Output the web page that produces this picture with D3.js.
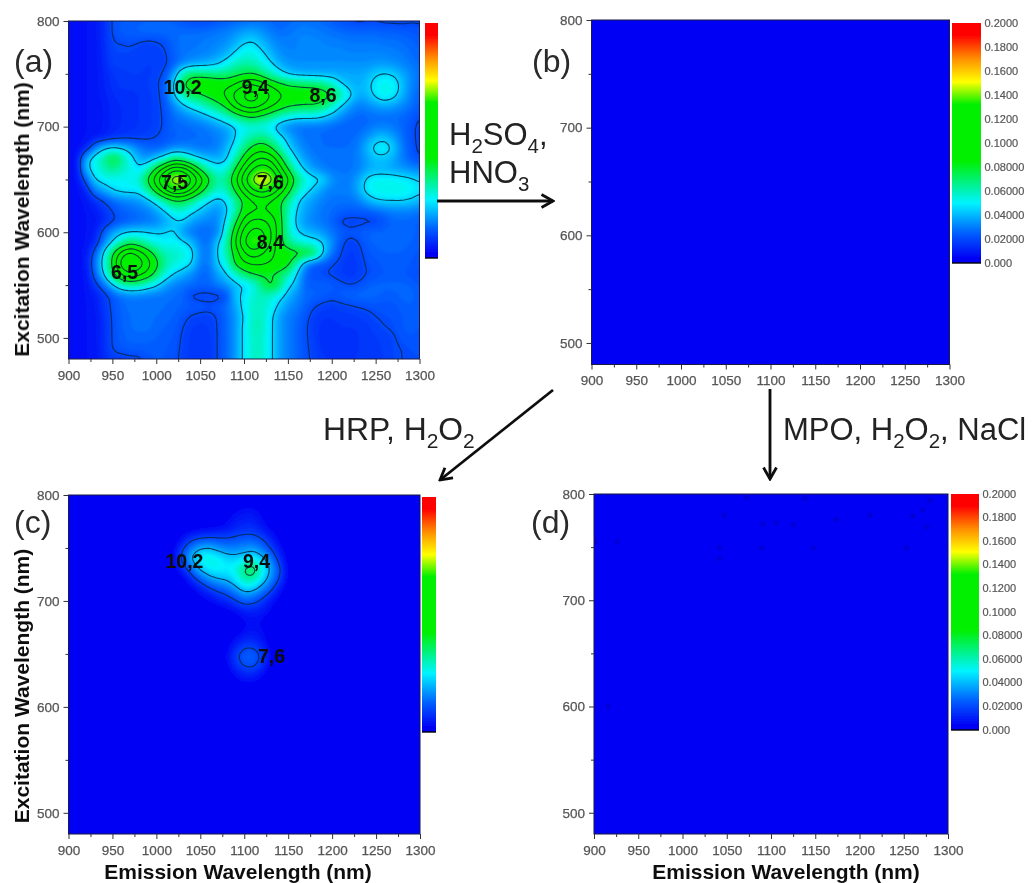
<!DOCTYPE html>
<html><head><meta charset="utf-8">
<script src="https://cdnjs.cloudflare.com/ajax/libs/d3/7.8.5/d3.min.js"></script>
<style>html,body{margin:0;padding:0;background:#fff;overflow:hidden}svg{display:block;font-family:"Liberation Sans",Arial,sans-serif}</style>
</head><body><div id="chart"></div>
<script>
// ---- data (intensity x 1000) ----
const emissionA = d3.range(900, 1301, 10);
const excitationA = d3.range(800, 479, -10);
const gridA = [
[6,6,7,8,13,21,23,24,24,25,25,25,24,22,20,19,20,22,24,25,26,27,27,26,25,26,27,28,27,26,24,21,20,18,19,19,18,18,18,19,19],
[6,6,7,8,13,21,24,25,26,27,27,27,27,27,27,27,28,29,30,33,36,37,34,30,27,28,30,31,30,29,28,27,26,26,26,26,25,25,24,23,22],
[6,6,7,8,13,20,20,21,20,18,19,21,26,28,28,29,30,31,33,38,44,46,40,34,31,30,31,32,32,31,30,30,29,29,29,29,28,28,27,26,24],
[5,6,7,8,12,19,19,19,17,17,18,19,25,28,29,30,31,34,38,46,53,53,47,40,33,31,31,32,32,32,32,32,31,31,31,31,31,30,29,27,25],
[5,6,7,8,12,18,18,18,19,17,17,18,24,30,34,36,38,42,50,58,62,60,54,46,38,34,33,33,33,33,33,33,33,33,33,34,34,33,31,29,26],
[5,6,7,8,11,15,16,17,17,16,18,21,35,60,72,70,68,66,68,72,76,78,70,60,50,42,38,37,37,37,37,37,37,37,38,44,46,44,38,32,28],
[5,6,7,8,11,14,16,16,16,17,19,24,46,78,92,96,96,92,90,96,108,112,104,92,84,78,76,74,72,68,60,46,40,38,42,50,54,52,42,32,26],
[5,6,7,8,10,13,14,14,15,16,18,23,44,62,72,76,84,90,100,118,130,135,126,112,100,92,90,90,92,88,80,64,50,38,40,48,54,50,40,30,25],
[5,6,7,8,9,12,13,14,15,16,18,22,32,42,50,56,64,72,84,104,118,122,112,100,90,82,80,78,78,72,60,46,36,30,32,36,38,36,32,28,24],
[5,6,7,8,9,12,13,14,15,16,18,21,27,30,34,38,44,50,58,68,78,82,76,68,60,54,50,50,50,46,40,33,28,26,26,27,27,27,26,24,20],
[5,6,7,8,9,12,13,14,15,16,18,21,26,26,27,28,30,34,38,44,50,52,50,48,36,30,28,27,27,27,26,25,25,25,27,30,30,29,26,22,18],
[5,6,7,8,10,13,15,16,17,18,20,22,24,25,26,27,28,30,33,45,56,62,68,60,50,40,32,28,27,27,26,26,26,28,33,40,42,36,28,22,18],
[5,6,10,30,42,46,44,38,30,26,24,26,30,31,30,28,28,30,40,50,66,82,88,80,62,46,36,30,28,27,27,27,27,30,40,50,52,44,30,23,18],
[5,8,40,52,64,80,68,52,38,34,42,52,68,64,52,44,40,38,42,60,84,104,112,106,86,60,44,34,30,28,28,28,28,30,36,42,42,38,30,24,20],
[5,8,42,52,60,66,60,54,46,58,82,105,122,120,102,76,58,50,54,78,104,126,136,130,104,78,54,42,34,30,28,28,28,30,36,38,38,36,34,32,30],
[5,7,24,46,50,52,50,52,56,80,108,132,152,150,130,106,82,62,66,92,122,146,155,150,126,100,72,55,50,46,34,30,30,36,48,52,52,52,50,48,44],
[5,6,12,30,38,46,50,50,50,64,88,112,130,128,110,88,68,56,60,80,105,126,134,128,108,86,62,50,42,34,30,30,30,38,50,54,54,54,54,52,48],
[5,6,8,14,20,26,30,32,34,40,50,64,76,76,66,54,46,40,46,62,80,94,100,94,82,66,48,38,34,30,28,28,28,30,38,44,46,46,46,44,40],
[5,6,7,9,14,20,24,26,28,30,36,44,54,56,48,42,36,32,42,60,86,92,94,92,84,60,44,36,32,28,27,25,24,24,24,26,28,30,30,30,28],
[5,6,7,8,12,18,22,24,26,28,30,36,42,44,36,32,30,32,48,74,102,116,116,106,88,58,42,34,30,28,26,18,17,17,18,18,22,26,26,26,24],
[5,6,7,9,24,36,42,46,46,45,44,45,47,34,28,26,26,30,56,88,118,132,130,114,88,60,46,40,38,34,28,26,22,24,26,26,26,26,26,26,24],
[5,6,7,12,30,45,62,72,68,58,52,50,52,48,42,30,27,44,60,96,126,140,134,112,84,68,58,54,50,46,34,22,17,19,24,26,26,26,26,25,24],
[5,6,8,24,46,78,104,118,106,90,72,60,58,56,50,32,28,46,62,84,108,120,112,98,90,88,86,84,78,46,28,20,16,18,22,24,25,25,25,24,22],
[5,6,8,28,50,82,118,132,122,104,84,64,56,52,46,30,28,44,52,82,92,96,96,94,92,84,60,32,22,22,20,18,15,17,21,22,24,24,24,23,21],
[5,6,7,24,44,74,98,108,100,90,72,54,44,38,32,26,26,36,44,56,70,78,80,78,72,62,44,26,21,20,19,17,15,17,20,21,23,23,23,22,20],
[5,6,7,16,26,42,58,64,62,54,46,36,30,28,27,26,26,30,34,40,44,50,68,84,72,48,40,24,24,25,24,22,20,21,24,26,26,26,26,25,23],
[5,6,7,9,16,22,27,29,29,28,28,28,27,26,18,17,17,17,20,42,48,56,60,56,50,40,32,27,26,24,22,24,26,27,27,26,24,24,26,26,24],
[5,6,7,9,15,22,26,28,28,28,28,27,26,25,24,23,22,23,28,36,50,58,58,54,42,34,30,25,20,18,17,18,19,20,21,22,22,22,24,25,24],
[5,6,7,8,14,21,25,27,28,28,27,26,25,22,19,18,18,20,26,34,46,58,60,48,36,30,27,22,17,15,15,16,16,17,18,20,21,21,23,24,23],
[5,6,7,8,13,21,25,27,28,28,26,25,24,20,17,16,17,20,26,34,48,60,60,48,36,30,26,21,16,14,14,15,15,15,16,18,20,21,23,24,23],
[5,6,7,8,13,21,24,26,26,26,25,24,23,19,16,15,16,20,26,34,48,58,58,48,36,30,26,21,17,13,13,14,14,15,16,17,17,19,22,23,22],
[5,6,7,8,13,21,23,24,24,24,24,23,22,19,16,15,16,20,26,34,48,58,58,48,36,30,26,21,18,14,13,14,14,15,15,16,18,19,20,21,21],
[5,6,7,8,12,17,17,18,18,22,23,23,22,18,16,15,16,20,26,34,48,58,58,48,36,30,26,22,18,16,14,14,15,15,17,15,17,19,20,21,21]
];
const emissionC = d3.range(1000, 1221, 10);
const excitationC = d3.range(800, 609, -10);
const gridC = [
[0,0,0,0,0,0,0,0,0,0,0,0,0,0,0,0,0,0,1,5,6,3,0],
[0,0,0,0,0,0,0,0,0,2,4,4,2,0,0,0,0,0,0,2,2,0,0],
[0,0,0,0,0,0,0,0,3,7,9,9,5,1,0,0,0,0,0,0,0,0,0],
[0,0,0,0,0,2,3,4,6,10,12,12,8,3,1,0,0,0,0,0,0,0,0],
[0,0,0,6,14,17,18,18,18,20,22,22,18,10,3,0,0,0,0,0,0,0,0],
[0,0,4,18,30,38,40,34,30,30,32,34,28,18,8,1,0,0,0,0,0,0,0],
[0,0,6,24,42,54,56,52,46,44,48,52,44,30,14,2,0,0,0,0,0,0,0],
[0,0,2,12,26,42,50,52,50,54,70,76,56,38,22,4,0,0,0,0,0,0,0],
[0,0,0,2,12,22,32,38,40,48,62,62,48,32,18,3,0,0,0,0,0,0,0],
[0,0,0,0,2,8,14,20,24,32,42,40,30,20,8,0,0,0,0,0,0,0,0],
[0,0,0,0,0,2,4,9,12,18,24,22,16,8,2,0,0,0,0,0,0,0,0],
[0,0,0,0,0,0,0,0,2,5,9,10,9,4,1,0,0,0,0,0,0,0,0],
[0,0,0,0,0,0,0,0,0,1,4,5,4,1,0,0,0,0,0,0,0,0,0],
[0,0,0,0,0,0,0,0,0,2,6,8,6,2,0,0,0,0,0,0,0,0,0],
[0,0,0,0,0,0,0,0,2,9,15,15,9,2,0,0,0,0,0,0,0,0,0],
[0,0,0,0,0,0,0,0,5,17,24,25,18,5,0,0,0,0,0,0,0,0,0],
[0,0,0,0,0,0,0,0,4,15,22,23,15,4,0,0,0,0,0,0,0,0,0],
[0,0,0,0,0,0,0,0,0,6,10,10,6,0,0,0,0,0,0,0,0,0,0],
[0,0,0,0,0,0,0,0,0,1,3,3,1,0,0,0,0,0,0,0,0,0,0],
[0,0,0,0,0,0,0,0,0,0,0,0,0,0,0,0,0,0,0,0,0,0,0]
];
const speckleEmissionD = [1072,1138,1047,1106,1125,1091,1260,1272,1279,1212,1174,1042,1089,1148,1253,901,926,916,1042,1276];
const speckleExcitationD = [797,796,780,773,771,772,779,785,794,780,776,750,749,749,749,755,755,600,739,769];
const peakNamesA = ["10,2","9,4","8,6","7,5","7,6","8,4","6,5"];
const peakXA = [1030,1113,1190,1021,1130,1130,964];
const peakYA = [737,737,729,647,647,590,561];
const peakNamesC = ["10,2","9,4","7,6"];
const peakXC = [1032,1114,1131];
const peakYC = [737,737,647];
const contourLevels = [20,45,78,95,110,125,140];
const contourLevelsC = [19,39,66];
const colorStops = [0,0.004,0.025,0.05,0.085,0.132,0.151,0.17,0.19,0.2];
const colorValues = ["#0000f5","#0000f5","#0060ff","#00f4ff","#00f000","#00f000","#ffff00","#ff9000","#ff0000","#ff0000"];
const xTicks = [900,950,1000,1050,1100,1150,1200,1250,1300];
const xMinor = [925,975,1025,1075,1125,1175,1225,1275];
const yTicks = [500,600,700,800];
const yMinor = [550,650,750];
const barTicks = [0,0.02,0.04,0.06,0.08,0.1,0.12,0.14,0.16,0.18,0.2];
const barTickLabels = ["0.000","0.02000","0.04000","0.06000","0.08000","0.1000","0.1200","0.1400","0.1600","0.1800","0.2000"];
const yTitle = "Excitation Wavelength (nm)";
const xTitle = "Emission Wavelength (nm)";

// ---- drawing ----
const color = d3.scaleLinear().domain(colorStops).range(colorValues).clamp(true);
const svg = d3.select("#chart").append("svg").attr("width",1035).attr("height",883);
const defs = svg.append("defs");
defs.append("filter").attr("id","soft").attr("x","-5%").attr("y","-5%").attr("width","110%").attr("height","110%")
  .append("feGaussianBlur").attr("stdDeviation",0.9);
defs.append("filter").attr("id","softer").attr("filterUnits","userSpaceOnUse").attr("x",0).attr("y",0).attr("width",1035).attr("height",883)
  .append("feGaussianBlur").attr("stdDeviation",0.45);
const grad = defs.append("linearGradient").attr("id","barGrad").attr("x1",0).attr("x2",0).attr("y1",1).attr("y2",0);
grad.selectAll("stop").data(colorStops).join("stop")
  .attr("offset",d=>d/0.2).attr("stop-color",d=>color(d));
defs.append("marker").attr("id","head").attr("viewBox","0 0 16 16").attr("refX",14.5).attr("refY",8)
  .attr("markerWidth",16).attr("markerHeight",16).attr("markerUnits","userSpaceOnUse").attr("orient","auto")
  .append("path").attr("d","M3,1.5 L14.5,8 L3,14.5").attr("fill","none").attr("stroke","#111").attr("stroke-width",2.8);

const root = svg.append("g").attr("filter","url(#softer)");

// the read grid is only resampled for drawing, so the contours come out round as in the picture
function resample(grid,k){
  const n=grid[0].length,m=grid.length,w=(n-1)*k+1,h=(m-1)*k+1,out=new Float64Array(w*h);
  for(let j=0;j<h;j++){const jj=j/k,j0=Math.min(Math.floor(jj),m-2),tj=jj-j0;
    for(let i=0;i<w;i++){const ii=i/k,i0=Math.min(Math.floor(ii),n-2),ti=ii-i0;
      out[j*w+i]=d3.interpolateNumber(
        d3.interpolateNumber(grid[j0][i0],grid[j0][i0+1])(ti),
        d3.interpolateNumber(grid[j0+1][i0],grid[j0+1][i0+1])(ti))(tj);
    }}
  const image={data:out,width:w,height:h};
  if(d3.blur2) d3.blur2(image,1);
  return image;
}
const upsample=4;

const layout = [
 {id:"a",l:68.5,r:419.5,t:21,b:359,bar:[425,438,23,258],barLabels:false,letter:[14,72],yc:219.5,xc:null,grid:gridA,xs:emissionA,ys:excitationA,names:peakNamesA,px:peakXA,py:peakYA,lines:contourLevels},
 {id:"b",l:591.5,r:949.5,t:20,b:364.5,bar:[952,981,23,263],barLabels:true,letter:[532,72],yc:null,xc:null},
 {id:"c",l:68.5,r:420,t:495,b:834,bar:[422,436,497,732],barLabels:false,letter:[14,533],yc:686,xc:238,grid:gridC,xs:emissionC,ys:excitationC,names:peakNamesC,px:peakXC,py:peakYC,lines:contourLevelsC},
 {id:"d",l:594,r:948,t:494,b:834,bar:[951,979,494,730],barLabels:true,letter:[531,533],yc:null,xc:786,speckle:true}
];

layout.forEach(p=>{
  const x = d3.scaleLinear().domain([900,1300]).range([p.l,p.r]);
  const y = d3.scaleLinear().domain([480,800]).range([p.b,p.t]);
  const g = root.append("g");
  const clipId = "clip"+p.id;
  defs.append("clipPath").attr("id",clipId).append("rect")
    .attr("x",p.l).attr("y",p.t).attr("width",p.r-p.l).attr("height",p.b-p.t);
  const plot = g.append("g").attr("clip-path",`url(#${clipId})`);
  plot.append("rect").attr("x",p.l-2).attr("y",p.t-2).attr("width",p.r-p.l+4).attr("height",p.b-p.t+4).attr("fill",color(0));

  if(p.grid){
    const img=resample(p.grid,upsample);
    const dx=(p.xs[1]-p.xs[0])/upsample, dy=(p.ys[1]-p.ys[0])/upsample;
    const path=d3.geoPath(d3.geoTransform({point(a,b){
      this.stream.point(x(p.xs[0]+(a-0.5)*dx), y(p.ys[0]+(b-0.5)*dy));
    }}));
    const levels=d3.range(1,200,2);
    const contours=d3.contours().size([img.width,img.height]);
    plot.append("g").attr("filter","url(#soft)").selectAll("path").data(contours.thresholds(levels)(img.data)).join("path")
      .attr("d",path).attr("fill",d=>color((d.value+1)/1000));
    plot.append("g").selectAll("path").data(contours.thresholds(p.lines)(img.data)).join("path")
      .attr("d",path).attr("fill","none").attr("stroke","#04243c").attr("stroke-opacity",0.8).attr("stroke-width",1.1);
  }
  if(p.speckle){
    plot.append("g").attr("filter","url(#soft)").selectAll("circle").data(speckleEmissionD).join("circle")
      .attr("cx",d=>x(d)).attr("cy",(d,i)=>y(speckleExcitationD[i])).attr("r",2).attr("fill","#00008a").attr("opacity",0.5);
  }

  // frame
  g.append("rect").attr("x",p.l).attr("y",p.t).attr("width",p.r-p.l).attr("height",p.b-p.t)
    .attr("fill","none").attr("stroke","#1a1a40").attr("stroke-width",1);

  // axes
  const styleAxis=s=>{s.select(".domain").remove();s.selectAll("line").attr("stroke","#333");
    s.selectAll("text").attr("fill","#555").attr("font-size",13.5).attr("font-family","'Liberation Sans',Arial,sans-serif").attr("stroke","#555").attr("stroke-width",0.25);};
  g.append("g").attr("transform",`translate(0,${p.b})`).call(d3.axisBottom(x).tickValues(xTicks).tickSize(5).tickPadding(6).tickFormat(d3.format("d"))).call(styleAxis);
  g.append("g").attr("transform",`translate(0,${p.b})`).call(d3.axisBottom(x).tickValues(xMinor).tickSize(3).tickFormat("")).call(s=>s.selectAll("text").remove()).call(styleAxis);
  g.append("g").attr("transform",`translate(${p.l},0)`).call(d3.axisLeft(y).tickValues(yTicks).tickSize(5).tickPadding(4).tickFormat(d3.format("d"))).call(styleAxis);
  g.append("g").attr("transform",`translate(${p.l},0)`).call(d3.axisLeft(y).tickValues(yMinor).tickSize(3).tickFormat("")).call(s=>s.selectAll("text").remove()).call(styleAxis);

  // colour bar
  const [bl,br,bt,bb]=p.bar;
  const by=d3.scaleLinear().domain([0,0.2]).range([bb,bt]);
  g.append("rect").attr("x",bl).attr("width",br-bl).attr("y",by(0.2)).attr("height",by(0)-by(0.2)).attr("fill","url(#barGrad)");
  g.append("line").attr("x1",bl).attr("x2",br).attr("y1",bb).attr("y2",bb).attr("stroke","#000").attr("stroke-width",1.4);
  if(p.barLabels){
    g.append("g").selectAll("text").data(barTicks).join("text")
      .attr("x",br+3.5).attr("y",d=>by(d)+3.5).attr("font-size",11).attr("fill","#555").attr("stroke","#555").attr("stroke-width",0.2)
      .text((d,i)=>barTickLabels[i]);
  }

  // peak labels
  if(p.names){
    g.append("g").selectAll("text").data(p.names).join("text")
      .attr("x",(d,i)=>x(p.px[i])).attr("y",(d,i)=>y(p.py[i])+6).attr("text-anchor","middle")
      .attr("font-size",19.5).attr("font-weight",700).attr("fill","#0b0b0b").text(d=>d);
  }

  // panel letter and titles
  g.append("text").attr("x",p.letter[0]).attr("y",p.letter[1]).attr("font-size",32).attr("fill","#2b2b2b").text(`(${p.id})`);
  if(p.yc){
    g.append("text").attr("transform",`translate(29,${p.yc}) rotate(-90)`).attr("text-anchor","middle")
      .attr("font-size",21).attr("font-weight",700).attr("fill","#111").text(yTitle);
  }
  if(p.xc){
    g.append("text").attr("x",p.xc).attr("y",879).attr("text-anchor","middle")
      .attr("font-size",21).attr("font-weight",700).attr("fill","#111").text(xTitle);
  }
});

// reaction annotations
function chem(xp,yp,size,parts){
  const t=root.append("text").attr("x",xp).attr("y",yp).attr("font-size",size).attr("fill","#222");
  let back=0;
  parts.forEach(s=>{
    if(typeof s==="string"){ t.append("tspan").attr("dy",back).text(s); back=0; }
    else { t.append("tspan").attr("dy",8).attr("font-size",size*0.66).text(s[0]); back=-8; }
  });
}
chem(449,145,31,["H",["2"],"SO",["4"],","]);
chem(449,183,31,["HNO",["3"]]);
chem(323,440,31.8,["HRP, H",["2"],"O",["2"]]);
chem(783,440,31,["MPO, H",["2"],"O",["2"],", NaCl"]);
const arrows=[[437,201,553,201],[553,390,440,480],[770,389,770,479]];
root.append("g").selectAll("line").data(arrows).join("line")
  .attr("x1",d=>d[0]).attr("y1",d=>d[1]).attr("x2",d=>d[2]).attr("y2",d=>d[3])
  .attr("stroke","#111").attr("stroke-width",2.8).attr("marker-end","url(#head)");
</script></body></html>
